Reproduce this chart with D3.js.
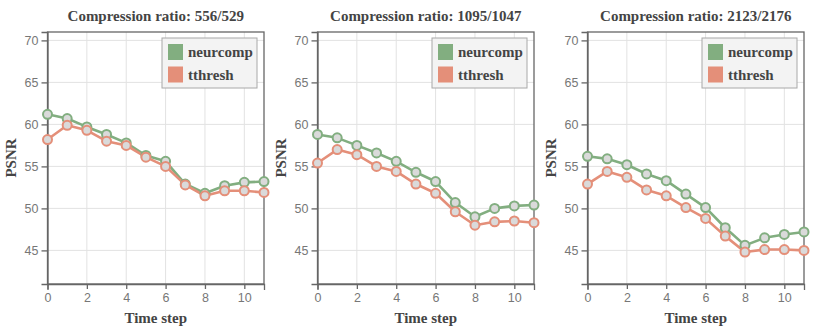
<!DOCTYPE html>
<html>
<head>
<meta charset="utf-8">
<script src="https://cdn.jsdelivr.net/npm/d3@7"></script>
<style>
  body { margin: 0; background: #fff; }
  #chart { width: 814px; height: 329px; }
</style>
</head>
<body>
<div id="chart"></div>
<script>
var timeSteps = [0, 1, 2, 3, 4, 5, 6, 7, 8, 9, 10, 11];
var panelTitles = ["Compression ratio: 556/529", "Compression ratio: 1095/1047", "Compression ratio: 2123/2176"];
var seriesNames = ["neurcomp", "tthresh"];

// PSNR per time step, one array per panel
var neurcomp1 = [61.2, 60.7, 59.7, 58.8, 57.8, 56.3, 55.6, 52.9, 51.8, 52.7, 53.1, 53.2];
var tthresh1  = [58.2, 59.9, 59.3, 58.0, 57.5, 56.1, 55.0, 52.8, 51.5, 52.1, 52.1, 51.9];
var neurcomp2 = [58.8, 58.4, 57.5, 56.6, 55.6, 54.3, 53.2, 50.7, 49.0, 50.0, 50.3, 50.4];
var tthresh2  = [55.4, 57.0, 56.4, 55.0, 54.4, 52.9, 51.8, 49.6, 48.0, 48.4, 48.5, 48.3];
var neurcomp3 = [56.2, 55.9, 55.2, 54.1, 53.3, 51.7, 50.1, 47.7, 45.6, 46.5, 46.9, 47.2];
var tthresh3  = [52.9, 54.4, 53.7, 52.2, 51.5, 50.1, 48.8, 46.7, 44.8, 45.1, 45.1, 45.0];

var xTicks = [0, 2, 4, 6, 8, 10];
var yTicks = [45, 50, 55, 60, 65, 70];

var panels = [
  { title: panelTitles[0], series: [neurcomp1, tthresh1] },
  { title: panelTitles[1], series: [neurcomp2, tthresh2] },
  { title: panelTitles[2], series: [neurcomp3, tthresh3] }
];

var colors = ["#82ae80", "#e48f79"];
var serif = "'Liberation Serif', 'Times New Roman', serif";
var sans = "'Liberation Sans', Arial, sans-serif";

var svg = d3.select("#chart").append("svg")
  .attr("width", 814)
  .attr("height", 329);

var plotW = 216.5, plotH = 252;
var x = d3.scaleLinear().domain([0, 11]).range([0, plotW]);
var y = d3.scaleLinear().domain([41, 71]).range([plotH, 0]);

panels.forEach(function(p, i) {
  var g = svg.append("g")
    .attr("transform", "translate(" + (47.5 + i * 270) + ",32)");

  // grid
  g.append("g").selectAll("line.vg")
    .data(xTicks).enter().append("line")
      .attr("x1", function(d) { return x(d); })
      .attr("x2", function(d) { return x(d); })
      .attr("y1", 0).attr("y2", plotH)
      .attr("stroke", "#e2e2e2").attr("stroke-width", 1);
  g.append("g").selectAll("line.hg")
    .data(yTicks).enter().append("line")
      .attr("x1", 0).attr("x2", plotW)
      .attr("y1", function(d) { return y(d); })
      .attr("y2", function(d) { return y(d); })
      .attr("stroke", "#e2e2e2").attr("stroke-width", 1);

  // frame
  g.append("rect")
    .attr("width", plotW).attr("height", plotH)
    .attr("fill", "none")
    .attr("stroke", "#666").attr("stroke-width", 1.3);

  var xAxis = g.append("g")
    .attr("transform", "translate(0," + plotH + ")")
    .call(d3.axisBottom(x).tickValues(xTicks).tickSize(5).tickSizeOuter(6));
  var yAxis = g.append("g")
    .call(d3.axisLeft(y).tickValues(yTicks).tickSize(6).tickSizeOuter(6));

  [xAxis, yAxis].forEach(function(ax) {
    ax.select(".domain").attr("stroke", "#666").attr("stroke-width", 1.3);
    ax.selectAll(".tick line").attr("stroke", "#666").attr("stroke-width", 1.3);
    ax.selectAll(".tick text")
      .attr("fill", "#777")
      .style("font-family", sans)
      .style("font-size", "12.5px");
  });
  xAxis.selectAll(".tick text").attr("dy", "0.95em").attr("y", 6);
  yAxis.selectAll(".tick text").attr("x", -9);

  // title and axis labels
  g.append("text")
    .attr("x", plotW / 2).attr("y", -11)
    .attr("text-anchor", "middle")
    .attr("fill", "#444")
    .style("font-family", serif).style("font-weight", "bold").style("font-size", "15px")
    .text(p.title);
  g.append("text")
    .attr("x", plotW / 2).attr("y", plotH + 39)
    .attr("text-anchor", "middle")
    .attr("fill", "#444")
    .style("font-family", serif).style("font-weight", "bold").style("font-size", "15px")
    .text("Time step");
  g.append("text")
    .attr("transform", "translate(-32," + (plotH / 2) + ") rotate(-90)")
    .attr("text-anchor", "middle")
    .attr("fill", "#444")
    .style("font-family", serif).style("font-weight", "bold").style("font-size", "15px")
    .text("PSNR");

  // lines and markers
  var line = d3.line()
    .x(function(d, j) { return x(timeSteps[j]); })
    .y(function(d) { return y(d); });

  p.series.forEach(function(vals, s) {
    g.append("path")
      .datum(vals)
      .attr("d", line)
      .attr("fill", "none")
      .attr("stroke", colors[s])
      .attr("stroke-width", 2.6)
      .attr("stroke-linejoin", "round");
  });
  p.series.forEach(function(vals, s) {
    g.append("g").selectAll("circle")
      .data(vals).enter().append("circle")
        .attr("cx", function(d, j) { return x(timeSteps[j]); })
        .attr("cy", function(d) { return y(d); })
        .attr("r", 4.5)
        .attr("fill", "#dadada")
        .attr("stroke", colors[s])
        .attr("stroke-width", 2);
  });

  // legend
  var lg = g.append("g").attr("transform", "translate(" + (plotW - 102) + ",6)");
  lg.append("rect")
    .attr("width", 95).attr("height", 50)
    .attr("fill", "#f3f3f3")
    .attr("stroke", "#a8a8a8").attr("stroke-width", 1);
  seriesNames.forEach(function(name, s) {
    lg.append("rect")
      .attr("x", 6).attr("y", 6 + s * 22.5)
      .attr("width", 15).attr("height", 16)
      .attr("fill", colors[s]);
    lg.append("text")
      .attr("x", 26).attr("y", 19 + s * 22.5)
      .attr("fill", "#444")
      .style("font-family", serif).style("font-weight", "bold").style("font-size", "15px")
      .text(name);
  });
});
</script>
</body>
</html>
